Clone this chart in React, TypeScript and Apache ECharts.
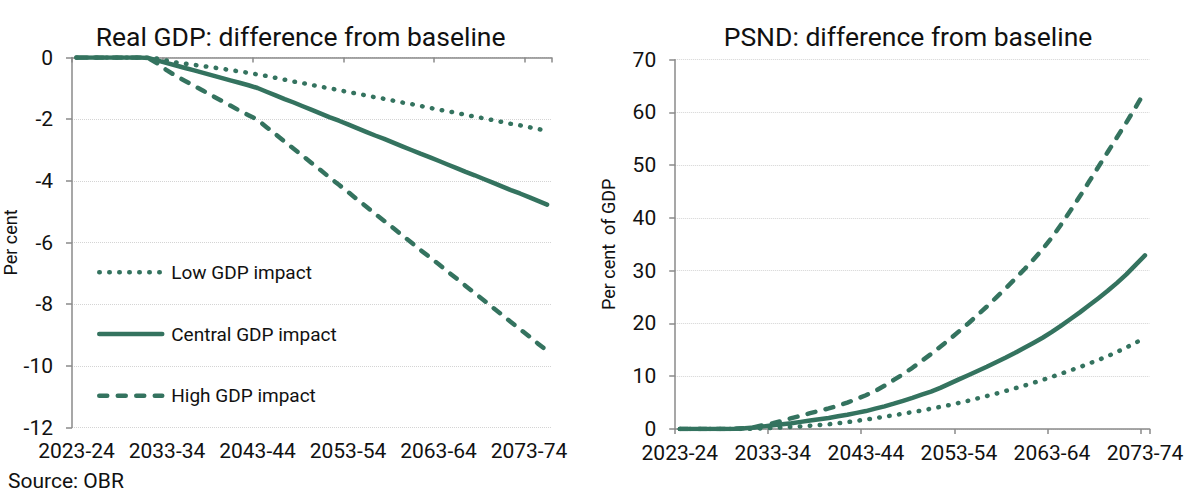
import React, { useEffect, useRef } from "react";
import * as echarts from "echarts";

const years: string[] = [
  "2023-24", "2024-25", "2025-26", "2026-27", "2027-28", "2028-29", "2029-30", "2030-31", "2031-32", "2032-33",
  "2033-34", "2034-35", "2035-36", "2036-37", "2037-38", "2038-39", "2039-40", "2040-41", "2041-42", "2042-43",
  "2043-44", "2044-45", "2045-46", "2046-47", "2047-48", "2048-49", "2049-50", "2050-51", "2051-52", "2052-53",
  "2053-54", "2054-55", "2055-56", "2056-57", "2057-58", "2058-59", "2059-60", "2060-61", "2061-62", "2062-63",
  "2063-64", "2064-65", "2065-66", "2066-67", "2067-68", "2068-69", "2069-70", "2070-71", "2071-72", "2072-73",
  "2073-74", "2074-75", "2075-76",
];
const psndYears: string[] = years.slice(0, 51);

const seriesNames = ["Low GDP impact", "Central GDP impact", "High GDP impact"];

const gdpLow: number[] = [
  0, 0, 0, 0, 0, 0, 0, 0, 0, -0.04,
  -0.1, -0.16, -0.2, -0.24, -0.28, -0.32, -0.36, -0.41, -0.45, -0.5,
  -0.55, -0.6, -0.66, -0.72, -0.78, -0.83, -0.89, -0.95, -1.0, -1.06,
  -1.12, -1.17, -1.23, -1.29, -1.34, -1.4, -1.46, -1.51, -1.57, -1.63,
  -1.69, -1.74, -1.8, -1.86, -1.92, -1.97, -2.03, -2.09, -2.15, -2.2,
  -2.26, -2.32, -2.38,
];
const gdpCentral: number[] = [
  0, 0, 0, 0, 0, 0, 0, 0, -0.02, -0.1,
  -0.18, -0.26, -0.34, -0.42, -0.5, -0.58, -0.66, -0.74, -0.82, -0.9,
  -0.99, -1.11, -1.23, -1.35, -1.46, -1.58, -1.7, -1.82, -1.94, -2.05,
  -2.17, -2.29, -2.41, -2.53, -2.64, -2.76, -2.88, -3.0, -3.12, -3.23,
  -3.35, -3.47, -3.59, -3.71, -3.82, -3.94, -4.06, -4.18, -4.3, -4.41,
  -4.53, -4.65, -4.77,
];
const gdpHigh: number[] = [
  0, 0, 0, 0, 0, 0, 0, 0, -0.03, -0.2,
  -0.42, -0.6, -0.76, -0.92, -1.08, -1.24, -1.4, -1.56, -1.72, -1.87,
  -2.02, -2.26, -2.49, -2.73, -2.96, -3.19, -3.43, -3.66, -3.9, -4.13,
  -4.36, -4.6, -4.83, -5.07, -5.3, -5.53, -5.77, -6.0, -6.24, -6.47,
  -6.7, -6.94, -7.17, -7.41, -7.64, -7.87, -8.11, -8.34, -8.58, -8.81,
  -9.04, -9.28, -9.51,
];

const psndLow: number[] = [
  0, 0, 0, 0, 0, 0, 0, 0, 0.05, 0.12,
  0.2, 0.3, 0.4, 0.5, 0.62, 0.75, 0.9, 1.1, 1.3, 1.55,
  1.8, 2.05, 2.35, 2.6, 2.9, 3.2, 3.5, 3.85, 4.2, 4.55,
  4.95, 5.35, 5.8, 6.25, 6.7, 7.2, 7.7, 8.2, 8.75, 9.3,
  9.9, 10.5, 11.1, 11.75, 12.4, 13.1, 13.8, 14.6, 15.45, 16.35,
  17.3,
];
const psndCentral: number[] = [
  0, 0, 0, 0, 0, 0, 0.05, 0.15, 0.3, 0.5,
  0.7, 0.9, 1.1, 1.35, 1.6, 1.85, 2.1, 2.4, 2.7, 3.05,
  3.4, 3.85, 4.3, 4.8, 5.35, 5.9, 6.5, 7.1, 7.8, 8.6,
  9.4, 10.2, 11.0, 11.8, 12.65, 13.5, 14.4, 15.35, 16.3, 17.3,
  18.4, 19.6, 20.85, 22.1, 23.45, 24.8, 26.2, 27.7, 29.3, 31.1,
  32.9,
];
const psndHigh: number[] = [
  0, 0, 0, 0, 0, 0, 0.05, 0.15, 0.35, 0.75,
  1.1, 1.55, 2.05, 2.5, 3.0, 3.45, 3.9, 4.4, 5.0, 5.7,
  6.4, 7.2, 8.2, 9.3, 10.4, 11.6, 12.9, 14.2, 15.6, 17.0,
  18.5, 20.0, 21.6, 23.2, 24.9, 26.6, 28.4, 30.2, 32.1, 34.1,
  36.3, 38.8, 41.4, 44.1, 46.9, 49.7, 52.5, 55.3, 58.1, 61.0,
  64.0,
];

const GREEN = "#34735f";
const AXIS = "#8a8a8a";
const GRIDC = "#d4d4d4";
const FONT = "Roboto";
const TXT = "#111111";

const lineTypes: any[] = [[0.5, 9.5], "solid", [8, 10.5]];

export default function App() {
  const ref = useRef<HTMLDivElement>(null);
  useEffect(() => {
    if (!ref.current) return;
    const chart = echarts.init(ref.current, null, { renderer: "svg" });

    const mk = (name: string, data: number[], k: number, xi: number, yi: number) => ({
      name,
      type: "line",
      xAxisIndex: xi,
      yAxisIndex: yi,
      data,
      symbol: "none",
      lineStyle: { color: GREEN, width: 4.5, type: lineTypes[k], cap: "round", join: "round" },
      itemStyle: { color: GREEN },
      z: 3,
    });

    const labelStyle = { color: TXT, fontFamily: FONT, fontSize: 21 };

    const option: any = {
      animation: false,
      textStyle: { fontFamily: FONT },
      grid: [
        { left: 70, top: 57.5, width: 481.6, height: 370, containLabel: false },
        { left: 675.2, top: 59.7, width: 474.4, height: 369.3, containLabel: false },
      ],
      xAxis: [
        {
          type: "category", gridIndex: 0, position: "bottom", data: years, boundaryGap: true,
          axisLine: { show: false, onZero: false }, axisTick: { show: false },
          axisLabel: { ...labelStyle, interval: 9, margin: 13 },
          splitLine: { show: false },
        },
        {
          type: "category", gridIndex: 0, position: "top", data: years, boundaryGap: true,
          axisLine: { show: true, onZero: false, lineStyle: { color: AXIS, width: 1.5 } },
          axisTick: { show: true, inside: true, interval: 9, length: 5, lineStyle: { color: AXIS, width: 1.5 } },
          axisLabel: { show: false },
          splitLine: { show: false },
        },
        {
          type: "category", gridIndex: 1, position: "bottom", data: psndYears, boundaryGap: true,
          axisLine: { show: true, lineStyle: { color: AXIS, width: 1.5 } },
          axisTick: { show: true, interval: 9, length: 5, lineStyle: { color: AXIS, width: 1.5 } },
          axisLabel: { ...labelStyle, interval: 9, margin: 13 },
          splitLine: { show: false },
        },
      ],
      yAxis: [
        {
          type: "value", gridIndex: 0, min: -12, max: 0, interval: 2,
          name: "Per cent", nameLocation: "middle", nameGap: 53,
          nameTextStyle: { color: TXT, fontFamily: FONT, fontSize: 18 },
          axisLine: { show: true, lineStyle: { color: AXIS, width: 1.5 } },
          axisTick: { show: true, length: 6, lineStyle: { color: AXIS, width: 1.5 } },
          axisLabel: { ...labelStyle, margin: 19 },
          splitLine: { show: true, lineStyle: { color: GRIDC, width: 1, type: "dotted" } },
        },
        {
          type: "value", gridIndex: 1, min: 0, max: 70, interval: 10,
          name: "Per cent  of GDP", nameLocation: "middle", nameGap: 58,
          nameTextStyle: { color: TXT, fontFamily: FONT, fontSize: 18 },
          axisLine: { show: true, lineStyle: { color: AXIS, width: 1.5 } },
          axisTick: { show: true, length: 6, lineStyle: { color: AXIS, width: 1.5 } },
          axisLabel: { ...labelStyle, margin: 19 },
          splitLine: { show: true, lineStyle: { color: GRIDC, width: 1, type: "dotted" } },
        },
      ],
      legend: {
        orient: "vertical",
        left: 97,
        top: 262.3,
        padding: 0,
        itemWidth: 63,
        itemHeight: 20,
        itemGap: 41.7,
        data: seriesNames,
        selectedMode: false,
        lineStyle: { width: 4.5, cap: "round" },
        itemStyle: { opacity: 0 },
        textStyle: { color: TXT, fontFamily: FONT, fontSize: 19, lineHeight: 20, padding: [0, 0, 0, 4] },
      },
      graphic: [
        {
          type: "text", x: 300.6, y: 36,
          style: { text: "Real GDP: difference from baseline", fill: TXT, font: `400 26.5px ${FONT}`, textAlign: "center", textVerticalAlign: "middle" },
        },
        {
          type: "text", x: 908, y: 36,
          style: { text: "PSND: difference from baseline", fill: TXT, font: `400 26.5px ${FONT}`, textAlign: "center", textVerticalAlign: "middle" },
        },
        {
          type: "text", x: 8, y: 481,
          style: { text: "Source: OBR", fill: TXT, font: `21px ${FONT}`, textAlign: "left", textVerticalAlign: "middle" },
        },
      ],
      series: [
        mk(seriesNames[0], gdpLow, 0, 0, 0),
        mk(seriesNames[1], gdpCentral, 1, 0, 0),
        mk(seriesNames[2], gdpHigh, 2, 0, 0),
        mk(seriesNames[0], psndLow, 0, 2, 1),
        mk(seriesNames[1], psndCentral, 1, 2, 1),
        mk(seriesNames[2], psndHigh, 2, 2, 1),
      ],
    };
    chart.setOption(option);
    return () => chart.dispose();
  }, []);
  return (
    <div
      ref={ref}
      style={{ position: "absolute", left: 0, top: 0, width: 1200, height: 496, background: "#ffffff" }}
    />
  );
}
